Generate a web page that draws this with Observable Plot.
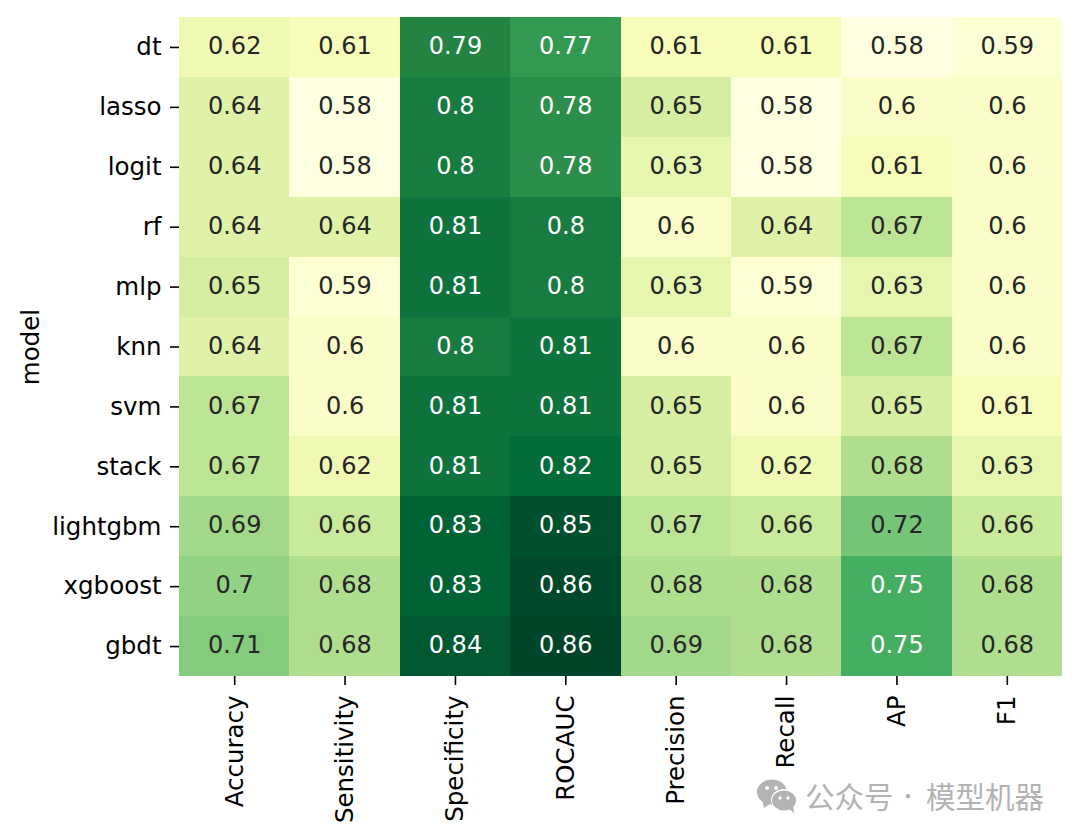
<!DOCTYPE html>
<html>
<head>
<meta charset="utf-8">
<script src="https://cdn.jsdelivr.net/npm/d3@7"></script>
<script src="https://cdn.jsdelivr.net/npm/@observablehq/plot@0.6"></script>
<style>
html,body{margin:0;padding:0;background:#fff;}
#wrap{position:relative;width:1080px;height:840px;overflow:hidden;}
#wm{position:absolute;left:0;top:0;font-family:"Noto Sans CJK SC";font-size:29.5px;color:#b3b3b3;line-height:1;}
#wm span{position:absolute;white-space:nowrap;top:781px;}
#wm svg{position:absolute;left:756px;top:779px;}
</style>
</head>
<body>
<div id="wrap">
<div id="chart"></div>
<div id="wm">
<svg width="44" height="36" viewBox="0 0 44 36">
<ellipse cx="16" cy="13" rx="15" ry="12.5" fill="#b3b3b3"/>
<path d="M6 20 L8 29 L15 24 Z" fill="#b3b3b3"/>
<ellipse cx="28" cy="21" rx="13" ry="11" fill="#fff"/>
<ellipse cx="28" cy="21.5" rx="12" ry="10" fill="#b3b3b3"/>
<path d="M32 29 L38 34 L37 25 Z" fill="#b3b3b3"/>
<circle cx="11" cy="9" r="2" fill="#fff"/><circle cx="20" cy="9" r="2" fill="#fff"/>
<circle cx="24" cy="19" r="1.7" fill="#fff"/><circle cx="32" cy="19" r="1.7" fill="#fff"/>
</svg>
<span style="left:805px">公众号</span>
<span style="left:898px;font-size:20px;top:786px">·</span>
<span style="left:926px">模型机器</span>
</div>
</div>
<script>
const models = ["dt","lasso","logit","rf","mlp","knn","svm","stack","lightgbm","xgboost","gbdt"];
const metrics = ["Accuracy","Sensitivity","Specificity","ROCAUC","Precision","Recall","AP","F1"];
const accuracy    = [0.62,0.64,0.64,0.64,0.65,0.64,0.67,0.67,0.69,0.70,0.71];
const sensitivity = [0.61,0.58,0.58,0.64,0.59,0.60,0.60,0.62,0.66,0.68,0.68];
const specificity = [0.79,0.80,0.80,0.81,0.81,0.80,0.81,0.81,0.83,0.83,0.84];
const rocauc      = [0.77,0.78,0.78,0.80,0.80,0.81,0.81,0.82,0.85,0.855,0.86];
const precision   = [0.61,0.65,0.63,0.60,0.63,0.60,0.65,0.65,0.67,0.68,0.69];
const recall      = [0.61,0.58,0.58,0.64,0.59,0.60,0.60,0.62,0.66,0.68,0.68];
const ap          = [0.58,0.60,0.61,0.67,0.63,0.67,0.65,0.68,0.72,0.75,0.75];
const f1          = [0.59,0.60,0.60,0.60,0.60,0.60,0.61,0.63,0.66,0.68,0.68];
const series = [accuracy,sensitivity,specificity,rocauc,precision,recall,ap,f1];
const ylgn = ["#ffffe5","#f7fcb9","#d9f0a3","#addd8e","#78c679","#41ab5d","#238443","#006837","#004529"];

const rows = metrics.flatMap((metric,i)=>models.map((model,j)=>({metric,model,value:series[i][j]})));
const fmt = d => d3.format(".2~g")(Math.round(d*100)/100);

const plot = Plot.plot({
  width:1080, height:840,
  marginLeft:179, marginRight:18, marginTop:17, marginBottom:164,
  style:{fontFamily:"DejaVu Sans",background:"#fff"},
  x:{domain:metrics,padding:0,round:false,axis:null},
  y:{domain:models,padding:0,round:false,axis:null},
  color:{type:"linear",domain:[0.576,0.86],interpolate:d3.piecewise(d3.interpolateRgb,ylgn)},
  marks:[
    Plot.cell(rows,{x:"metric",y:"model",fill:"value",shapeRendering:"crispEdges"}),
    Plot.text(rows.filter(d=>d.value<0.74),{x:"metric",y:"model",text:d=>fmt(d.value),fill:"#262626",fontSize:24,dy:-1}),
    Plot.text(rows.filter(d=>d.value>=0.74),{x:"metric",y:"model",text:d=>fmt(d.value),fill:"#ffffff",fontSize:24,dy:-1}),
    Plot.axisX({anchor:"bottom",tickRotate:-90,tickSize:9,tickPadding:10,label:null,fontSize:24.5,stroke:"#000",strokeWidth:1.6,strokeOpacity:1,color:"#000",textStroke:"none"}),
    Plot.axisY({anchor:"left",tickSize:9,tickPadding:9,label:"model",labelAnchor:"center",labelArrow:"none",labelOffset:158,fontSize:24.5,stroke:"#000",strokeWidth:1.6,strokeOpacity:1,color:"#000"})
  ]
});
document.getElementById("chart").appendChild(plot);
</script>
</body>
</html>
